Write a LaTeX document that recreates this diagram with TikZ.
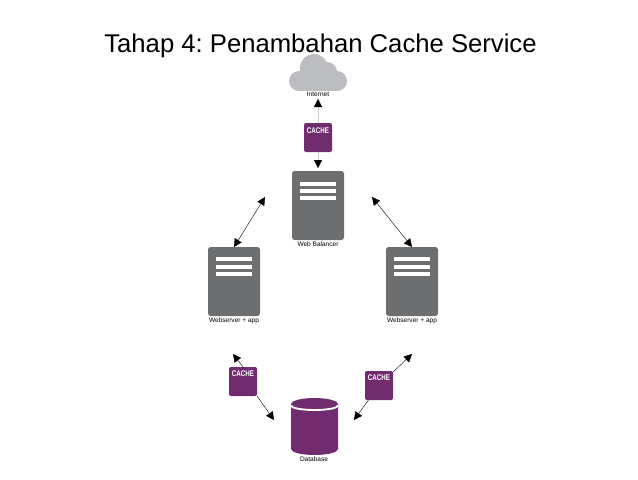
\documentclass[tikz,border=0pt]{standalone}
\usepackage{fontspec}
\setmainfont{Liberation Sans}
\usetikzlibrary{arrows.meta}
\definecolor{servergray}{HTML}{6D6E70}
\definecolor{cachepurple}{HTML}{702C6E}
\definecolor{cloudgray}{HTML}{BCBDC0}
\tikzset{
  serverbox/.style={fill=servergray, rounded corners=2pt, minimum width=39pt, minimum height=51.75pt, inner sep=0pt, outer sep=0pt},
  serverbar/.style={fill=white, minimum width=27pt, minimum height=3pt, inner sep=0pt, outer sep=0pt},
  cachebox/.style={fill=cachepurple, rounded corners=1.5pt, minimum width=21pt, minimum height=21.75pt, inner sep=0pt, outer sep=0pt},
  cachetext/.style={text=white, font=\fontsize{6.2}{7}\selectfont\bfseries, inner sep=0pt},
  smalltext/.style={text=black, font=\fontsize{4.9}{6}\selectfont, inner sep=0pt},
  link/.style={black, line width=0.3pt, {Triangle[length=6pt,width=6pt]}-{Triangle[length=6pt,width=6pt]}},
  cachelink/.style={black, line width=0.3pt, -{Triangle[length=6pt,width=6pt]}},
  faintlink/.style={black!20, line width=0.3pt, -{Triangle[length=6pt,width=6pt,black]}}
}

\begin{document}
\frenchspacing
\begin{tikzpicture}[x=0.75pt, y=-0.75pt]
          \useasboundingbox (0,0) rectangle (638,479);

          \node [font=\fontsize{19.25}{23}\selectfont, inner sep=0pt, anchor=base] (title) at (320.5,52) {Tahap 4: Penambahan Cache Service};

          % cloud
          \fill [cloudgray] (299,81) circle (10);
          \fill [cloudgray] (314,68) circle (14);
          \fill [cloudgray] (327,72) circle (10);
          \fill [cloudgray] (337,81) circle (10);
          \fill [cloudgray] (299,71) rectangle (337,91);
          \node [smalltext] (internet) at (318,94) {Internet};

          % servers
          \node [serverbox] (balancer) at (318,205.5) {};
          \node [serverbar] (balancerbara) at (318,183.5) {};
          \node [serverbar] (balancerbarb) at (318,190.7) {};
          \node [serverbar] (balancerbarc) at (318,198) {};
          \node [smalltext] (balancerlabel) at (318,244) {Web Balancer};

          \node [serverbox] (webleft) at (234,281.5) {};
          \node [serverbar] (webleftbara) at (234,259.3) {};
          \node [serverbar] (webleftbarb) at (234,266.7) {};
          \node [serverbar] (webleftbarc) at (234,274) {};
          \node [smalltext] (webleftlabel) at (234,320.5) {Webserver + app};

          \node [serverbox] (webright) at (412,281.5) {};
          \node [serverbar] (webrightbara) at (412,259.3) {};
          \node [serverbar] (webrightbarb) at (412,266.7) {};
          \node [serverbar] (webrightbarc) at (412,274) {};
          \node [smalltext] (webrightlabel) at (412,320.5) {Webserver + app};

          % caches
          \node [cachebox] (cachetop) at (318,137.5) {};
          \node [cachetext] (cachetoplabel) at (318,130.3) {\scalebox{.75}[1]{CACHE}};

          \node [cachebox] (cacheleft) at (243,381.5) {};
          \node [cachetext] (cacheleftlabel) at (243,373.8) {\scalebox{.75}[1]{CACHE}};

          \node [cachebox] (cacheright) at (379,385.5) {};
          \node [cachetext] (cacherightlabel) at (379,378) {\scalebox{.75}[1]{CACHE}};

          % database
          \fill [cachepurple] (291,404) -- (291,449) arc [start angle=180, end angle=0, x radius=23.5, y radius=6] -- (338,404) -- cycle;
          \fill [cachepurple] (314.5,404) ellipse [x radius=23.5, y radius=6];
          \draw [white, line width=1.4pt] (291,405.5) arc [start angle=180, end angle=0, x radius=23.5, y radius=4.5];
          \node [smalltext] (database) at (314,459.5) {Database};

          % free ends
          \coordinate (uptip) at (318,99);
          \coordinate (downtip) at (318,168);
          \coordinate (balleft) at (265,197);
          \coordinate (balright) at (372,197);
          \coordinate (webleftlow) at (233,354);
          \coordinate (dbleft) at (274,420);
          \coordinate (webrightlow) at (412,354);
          \coordinate (dbright) at (354,420);

          \draw [faintlink] (cachetop.north) to (uptip);
          \draw [faintlink] (cachetop.south) to (downtip);

          \draw [link] (webleft.north) to (balleft);
          \draw [link] (webright.north) to (balright);

          \draw [cachelink] (cacheleft.north) to (webleftlow);
          \draw [cachelink] (cacheleft.south east) to (dbleft);
          \draw [cachelink] (cacheright) to (webrightlow);
          \draw [cachelink] (cacheright) to (dbright);
\end{tikzpicture}
\end{document}
